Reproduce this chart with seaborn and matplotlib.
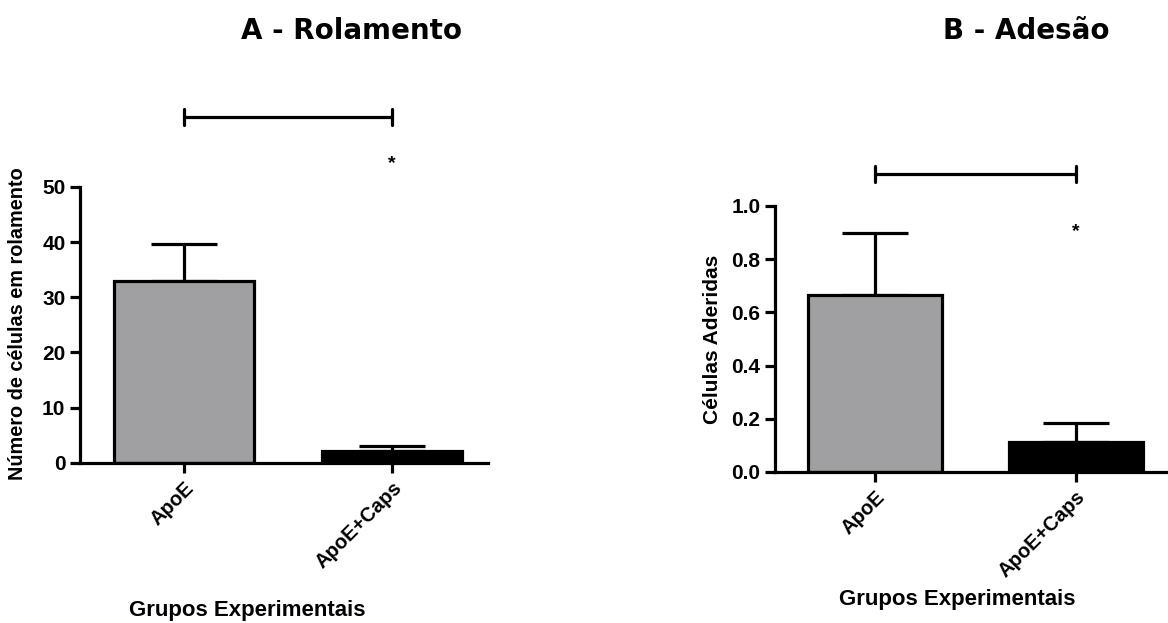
import matplotlib
matplotlib.use("Agg")
import matplotlib.pyplot as plt
import seaborn as sns
import pandas as pd

# Group labels and measured means / SEM
grupos = ["ApoE", "ApoE+Caps"]
rolamento_media = [33.0, 2.2]
rolamento_sem = [6.7, 0.8]
adesao_media = [0.667, 0.111]
adesao_sem = [0.233, 0.073]
cores = ["#a09fa4", "#000000"]

sns.set_theme(style="ticks")
plt.rcParams["font.family"] = ["Liberation Sans", "DejaVu Sans"]
plt.rcParams["font.weight"] = "bold"
for key in ("text.color", "axes.labelcolor", "xtick.color", "ytick.color",
            "axes.edgecolor"):
    plt.rcParams[key] = "black"

fig = plt.figure(figsize=(11.68, 6.23), dpi=100)
ax_a = fig.add_axes([0.0685, 0.257, 0.349, 0.443])
ax_b = fig.add_axes([0.6635, 0.2424, 0.3365, 0.427])

LW = 2.3


def painel(ax, medias, sems, ylim, yticks, yticklabels, ylabel, ylab_size,
           ylab_xy, xlab_xy, bracket_y, bracket_h, star_y):
    df = pd.DataFrame({"grupo": grupos, "valor": medias})
    sns.barplot(data=df, x="grupo", y="valor", hue="grupo", palette=cores,
                legend=False, width=0.67, edgecolor="black", linewidth=LW,
                ax=ax, errorbar=None)
    # one-sided (upper) SEM whiskers
    ax.errorbar(range(len(grupos)), medias, yerr=[[0] * len(sems), sems],
                fmt="none", ecolor="black", elinewidth=LW, capsize=24,
                capthick=LW, zorder=1)
    for bar in ax.patches:
        bar.set_zorder(2)
    ax.set_xlim(-0.5, 1.46)
    ax.set_ylim(*ylim)
    ax.set_yticks(yticks)
    ax.set_yticklabels(yticklabels, fontsize=15, fontweight="bold")
    sns.despine(ax=ax)
    for s in ("left", "bottom"):
        ax.spines[s].set_linewidth(LW)
    ax.tick_params(axis="both", width=LW, length=7, direction="out")
    ax.tick_params(axis="x", pad=4)
    ax.set_xticks(range(len(grupos)))
    ax.set_xticklabels(grupos, rotation=45, ha="right",
                       rotation_mode="anchor", fontsize=14.5,
                       fontweight="bold")
    ax.set_ylabel(ylabel, fontsize=ylab_size, fontweight="bold")
    ax.yaxis.set_label_coords(*ylab_xy)
    ax.yaxis.label.set_verticalalignment("center")
    ax.set_xlabel("Grupos Experimentais", fontsize=16, fontweight="bold")
    ax.xaxis.set_label_coords(*xlab_xy)
    ax.xaxis.label.set_verticalalignment("center")
    # significance bracket between the two groups
    ax.plot([0, 1], [bracket_y, bracket_y], color="black", lw=LW,
            clip_on=False, solid_capstyle="butt")
    for xb in (0, 1):
        ax.plot([xb, xb], [bracket_y - bracket_h, bracket_y + bracket_h],
                color="black", lw=LW, clip_on=False)
    ax.text(1, star_y, "*", ha="center", va="center", fontsize=14,
            fontweight="bold", clip_on=False)


painel(ax_a, rolamento_media, rolamento_sem, (0, 50), [0, 10, 20, 30, 40, 50],
       ["0", "10", "20", "30", "40", "50"],
       "Número de células em rolamento", 14.3, (-0.154, 0.505),
       (0.41, -0.536), 62.7, 1.5, 54.3)
painel(ax_b, adesao_media, adesao_sem, (0, 1.0), [0.0, 0.2, 0.4, 0.6, 0.8, 1.0],
       ["0.0", "0.2", "0.4", "0.6", "0.8", "1.0"],
       "Células Aderidas", 15, (-0.160, 0.50), (0.463, -0.481),
       1.12, 0.03, 0.905)

fig.text(0.301, 0.950, "A - Rolamento", ha="center", va="center",
         fontsize=20, fontweight="bold", family="DejaVu Sans")
fig.text(0.879, 0.950, "B - Adesão", ha="center", va="center",
         fontsize=20, fontweight="bold", family="DejaVu Sans")

fig.savefig("out.png", dpi=100, facecolor="white")
